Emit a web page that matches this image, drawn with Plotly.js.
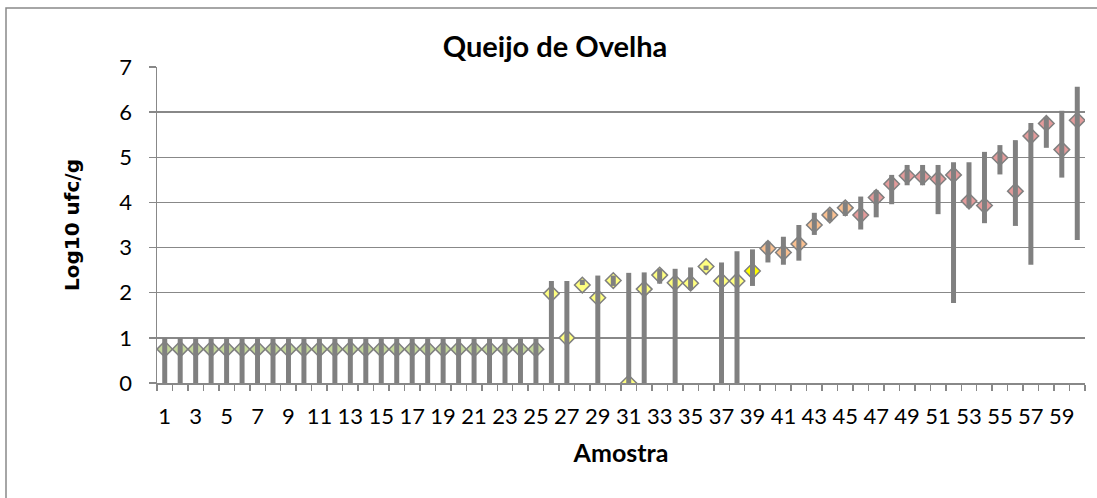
<!DOCTYPE html>
<html>
<head>
<meta charset="utf-8">
<script src="https://cdn.plot.ly/plotly-3.0.1.min.js"></script>
<style>html,body{margin:0;padding:0;background:#fff;}#chart{width:1097px;height:498px;}</style>
</head>
<body>
<div id="chart"></div>
<script>
// Amostras (categorias)
const amostras = [1,2,3,4,5,6,7,8,9,10,11,12,13,14,15,16,17,18,19,20,
  21,22,23,24,25,26,27,28,29,30,31,32,33,34,35,36,37,38,39,40,
  41,42,43,44,45,46,47,48,49,50,51,52,53,54,55,56,57,58,59,60];

// Valor médio (losangos), Log10 ufc/g
const media = [0.75,0.75,0.75,0.75,0.75,0.75,0.75,0.75,0.75,0.75,
  0.75,0.75,0.75,0.75,0.75,0.75,0.75,0.75,0.75,0.75,
  0.75,0.75,0.75,0.75,0.75,1.98,1.00,2.17,1.89,2.27,
  0.00,2.08,2.39,2.22,2.21,2.58,2.26,2.26,2.48,2.98,
  2.89,3.08,3.50,3.72,3.88,3.72,4.11,4.41,4.59,4.57,
  4.52,4.61,4.03,3.93,4.99,4.25,5.47,5.75,5.17,5.82];

// Mínimo e máximo (barras verticais)
const minimo = [0,0,0,0,0,0,0,0,0,0,0,0,0,0,0,0,0,0,0,0,0,0,0,0,0,
  0,0,2.17,0,2.15,0,0,2.20,0,2.06,2.50,0,0,2.15,2.67,
  2.62,2.71,3.28,3.58,3.70,3.40,3.67,3.96,4.38,4.38,
  3.74,1.77,3.88,3.54,4.62,3.48,2.62,5.21,4.55,3.17];
const maximo = [1,1,1,1,1,1,1,1,1,1,1,1,1,1,1,1,1,1,1,1,1,1,1,1,1,
  2.26,2.26,2.29,2.38,2.38,2.44,2.45,2.53,2.53,2.56,2.60,2.67,2.92,2.96,3.13,
  3.24,3.50,3.77,3.85,4.02,4.13,4.27,4.61,4.83,4.83,
  4.83,4.89,4.89,5.12,5.27,5.38,5.76,5.89,6.03,6.56];

// Rótulos do eixo X
const rotulosX = [1,3,5,7,9,11,13,15,17,19,21,23,25,27,29,31,33,35,37,39,41,43,45,47,49,51,53,55,57,59];
const rotulosY = [0,1,2,3,4,5,6,7];

function corAmostra(n) {
  if (n <= 25) return '#C3D69B';
  if (n <= 38) return '#FFFF80';
  if (n === 39) return '#FFFF00';
  if (n <= 45) return '#FAC090';
  return '#E39B9B';
}

const barX = [], barY = [];
amostras.forEach((a, i) => { barX.push(a, a, null); barY.push(minimo[i], maximo[i], null); });

const traces = [
  {
    type: 'scatter', mode: 'markers', x: amostras, y: media,
    marker: { symbol: 'diamond', size: 12, color: amostras.map(corAmostra),
      line: { color: '#7F7F7F', width: 1.5 } },
    hoverinfo: 'x+y', showlegend: false
  },
  {
    type: 'scatter', mode: 'lines', x: barX, y: barY,
    line: { color: '#808080', width: 5 },
    hoverinfo: 'skip', showlegend: false, connectgaps: false
  }
];

const L = 157, R = 12, T = 67, B = 115;
const W = 1097, H = 498;
const pw = W - L - R, ph = H - T - B;
const px = v => (v - L) / pw;
const py = v => (H - B - v) / ph;

const layout = {
  width: W, height: H,
  margin: { l: L, r: R, t: T, b: B },
  paper_bgcolor: '#ffffff', plot_bgcolor: '#ffffff',
  font: { family: 'Lato, sans-serif', color: '#000000', size: 22 },
  title: { text: '<b>Queijo de Ovelha</b>', x: px(555), xref: 'paper', xanchor: 'center',
    y: 1 - 47 / H, yref: 'container', yanchor: 'middle',
    font: { family: 'Lato, sans-serif', size: 29, color: '#000' } },
  xaxis: {
    range: [0.5, 60.5], tickmode: 'array', tickvals: rotulosX, ticktext: rotulosX.map(String),
    ticks: '', showgrid: false, zeroline: false, showline: true,
    linecolor: '#888888', linewidth: 1.5, ticklabelstandoff: 13,
    tickfont: { size: 22 },
    minor: { tick0: 0.5, dtick: 1, ticks: 'outside', ticklen: 6, tickwidth: 1.5, tickcolor: '#888888', showgrid: false },
    title: { text: '<b>Amostra</b>', standoff: 16, font: { size: 25 } },
    fixedrange: true
  },
  yaxis: {
    range: [0, 7], tickmode: 'array', tickvals: rotulosY,
    ticks: 'outside', ticklen: 7, tickwidth: 1.5, tickcolor: '#888888',
    showgrid: true, gridcolor: '#888888', gridwidth: 1.5, zeroline: false,
    showline: true, linecolor: '#888888', linewidth: 1.5, ticklabelstandoff: 12,
    tickfont: { size: 22 },
    title: { text: '<b>Log10 ufc/g</b>', standoff: 34, font: { family: 'DejaVu Sans, sans-serif', size: 20 } },
    fixedrange: true
  },
  shapes: [
    { type: 'path', xref: 'paper', yref: 'paper',
      path: `M ${px(6)} ${py(H + 5)} L ${px(6)} ${py(8)} L ${px(W + 5)} ${py(8)}`,
      line: { color: '#898989', width: 1.5 } }
  ]
};

Plotly.newPlot('chart', traces, layout, { displayModeBar: false, staticPlot: true });
</script>
</body>
</html>
